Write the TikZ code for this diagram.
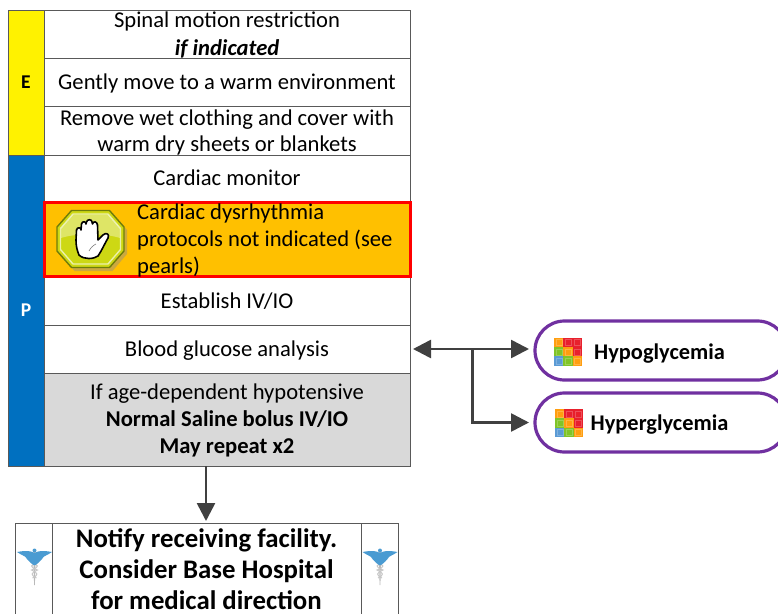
\documentclass[tikz,border=0pt]{standalone}
\usepackage{fontspec}
\setmainfont{Carlito}
\usetikzlibrary{arrows.meta,shapes.geometric,calc}
\definecolor{linegray}{HTML}{595959}
\definecolor{arrowgray}{HTML}{404040}
\definecolor{purp}{HTML}{7030A0}
\definecolor{wingblue}{HTML}{4A9BD2}
\tikzset{
  cell/.style={draw=linegray,line width=0.8pt,outer sep=0pt,minimum width=366pt,anchor=north west,inner sep=0pt},
  celltext/.style={inner sep=0pt,align=center,font=\fontsize{22.6}{27}\selectfont,text=black},
  side/.style={draw=linegray,line width=0.8pt,outer sep=0pt,minimum width=36pt,anchor=north west,inner sep=0pt,font=\fontsize{19.5}{20}\selectfont\bfseries},
  pill/.style={draw=purp,line width=3.2pt,outer sep=0pt,rounded corners=29.5pt,fill=white,minimum width=252pt,minimum height=59pt,anchor=north west},
  pilltext/.style={font=\fontsize{22.4}{26}\selectfont\bfseries,inner sep=0pt,text=black},
  conn/.style={draw=arrowgray,line width=2.6pt},
  tip/.style={-{Triangle[length=18pt,width=18pt]}},
  pane/.style={draw=linegray,line width=0.8pt},
}
\newcommand{\gridicon}[2]{%
  \foreach \cc [count=\k from 0] in {FF9E10,E8202C,E8202C,80C428,FF9E10,E8202C,5B9BD5,80C428,FF9E10}{%
    \pgfmathtruncatemacro{\cx}{mod(\k,3)}%
    \pgfmathtruncatemacro{\cy}{int(\k/3)}%
    \definecolor{gc}{HTML}{\cc}%
    \fill[gc] ({#1+\cx*9.4},{#2+\cy*9.4}) rectangle ++(9.2,9.2);%
    \draw[white,opacity=.22,line width=.8pt] ({#1+\cx*9.4+2},{#2+\cy*9.4+2}) rectangle ++(6,6);%
  }%
}
\newcommand{\caduceus}[2]{%
  \begin{scope}[shift={(#1,#2)}]
    \fill[gray!55] (-1.2,-6) -- (1.2,-6) -- (0.4,29) -- (-0.4,29) -- cycle;
    \draw[gray!45,line width=1pt] (-4,6) .. controls (5,9) and (5,11) .. (-3,14) .. controls (4,17) and (4,19) .. (-2,22);
    \draw[gray!45,line width=1pt] (4,6) .. controls (-5,9) and (-5,11) .. (3,14) .. controls (-4,17) and (-4,19) .. (2,22);
    \fill[wingblue] (-17.5,-4) .. controls (-9,-5.5) and (-4,-5.5) .. (0,-3) .. controls (4,-5.5) and (9,-5.5) .. (17.5,-4) .. controls (13,-1) and (10,0) .. (9,1) .. controls (7,4) and (4,7) .. (1,9) -- (-1,9) .. controls (-4,7) and (-7,4) .. (-9,1) .. controls (-10,0) and (-13,-1) .. (-17.5,-4) -- cycle;
    \fill[wingblue] (0,-5.5) circle (2pt);
  \end{scope}%
}
\begin{document}
\begin{tikzpicture}[x=1pt,y=-1pt]
\useasboundingbox (0,0) rectangle (778,613);
\clip (0,0) rectangle (778,613);
% side bars
\node[side,fill=yellow,minimum height=145pt] (E) at (8,10) {E};
\node[side,fill={rgb,255:red,0;green,112;blue,192},text=white,minimum height=311pt] (P) at (8,155) {P};
% rows
\node[cell,minimum height=48pt] (r1) at (44,10) {};
\node[cell,minimum height=48pt] (r2) at (44,58) {};
\node[cell,minimum height=49pt] (r3) at (44,106) {};
\node[cell,minimum height=47pt] (r4) at (44,155) {};
\node[cell,minimum height=48pt] (r6) at (44,277) {};
\node[cell,minimum height=48pt] (r7) at (44,325) {};
\node[cell,minimum height=93pt,fill={rgb,255:red,217;green,217;blue,217}] (r8) at (44,373) {};
\node[celltext] (t1) at ([yshift=-1pt]r1.center) {Spinal motion restriction\\[1pt]\textbf{\textit{if indicated}}};
\node[celltext] (t2) at ([yshift=-1pt]r2.center) {Gently move to a warm environment};
\node[celltext] (t3) at ([yshift=-2pt]r3.center) {Remove wet clothing and cover with\\[-1pt]warm dry sheets or blankets};
\node[celltext] (t4) at ([yshift=0.4pt]r4.center) {Cardiac monitor};
\node[celltext] (t6) at ([yshift=0pt]r6.center) {Establish IV/IO};
\node[celltext] (t7) at ([yshift=-1.4pt]r7.center) {Blood glucose analysis};
\node[celltext] (t8) at ([yshift=-1.4pt]r8.center) {If age-dependent hypotensive\\\textbf{Normal Saline bolus IV/IO}\\\textbf{May repeat x2}};
% alert row
\node[draw=red,line width=3pt,outer sep=0pt,fill={rgb,255:red,255;green,192;blue,0},minimum width=366pt,minimum height=74.5pt,anchor=north west,inner sep=0pt] (r5) at (44,202) {};
\node[anchor=west,inner sep=0pt,align=left,font=\fontsize{22.6}{27}\selectfont] (r5t) at (137,240) {Cardiac dysrhythmia\\protocols not indicated (see\\pearls)};
% stop icon
\fill[black!45,opacity=.45] (74.5,213) -- (112.5,213) -- (127,230) -- (127,254) -- (112.5,271) -- (74.5,271) -- (60,254) -- (60,230) -- cycle;
\draw[draw={rgb,255:red,110;green,125;blue,10},line width=1.4pt,fill={rgb,255:red,205;green,216;blue,20}] (71.5,210.5) -- (109.5,210.5) -- (124,227) -- (124,251) -- (109.5,267.5) -- (71.5,267.5) -- (57,251) -- (57,227) -- cycle;
\draw[draw={rgb,255:red,235;green,240;blue,170},line width=1.4pt] (73,214) -- (108,214) -- (120.5,228.5) -- (120.5,249.5) -- (108,264) -- (73,264) -- (60.5,249.5) -- (60.5,228.5) -- cycle;
\fill[white,opacity=.35] (73,214.5) -- (108,214.5) -- (120,228.5) -- (120,238) .. controls (105,233) and (76,233) .. (61,238) -- (61,228.5) -- cycle;
\draw[black,line width=1.6pt,fill=white,line join=round]
 (79,255) .. controls (77,250) and (76,246) .. (76,240)
 -- (76.5,230) .. controls (77,227) and (81,227) .. (81,230)
 -- (81.5,224) .. controls (82,221) and (86,221) .. (86,224)
 -- (86.5,222) .. controls (87,219) and (92,219) .. (92,222)
 -- (92.5,224) .. controls (93,221) and (97,221) .. (97.5,225)
 -- (98,240) -- (103,235) .. controls (106,232) and (110,234) .. (108,238)
 .. controls (104,245) and (102,250) .. (98,256)
 .. controls (94,259) and (84,260) .. (79,255) -- cycle;
\draw[gray,line width=.6pt] (89,251) .. controls (91,247) and (94,245) .. (96,244);
% pills
\node[pill] (hypo) at (535,321) {};
\node[pill] (hyper) at (535,393) {};
\gridicon{554}{337.5}
\gridicon{555}{409}
\node[pilltext,anchor=west] (hypot) at (594,353.5) {Hypoglycemia};
\node[pilltext,anchor=west] (hypert) at (590.5,425) {Hyperglycemia};
% bottom box
\draw[pane] (15,640) -- (15,523) -- (398,523) -- (398,640);
\draw[pane] (52,523) -- (52,640);
\draw[pane] (361,523) -- (361,640);
\node[inner sep=0pt,align=center,font=\fontsize{26.8}{31}\selectfont\bfseries] (notify) at (206.5,569) {Notify receiving facility.\\Consider Base Hospital\\for medical direction};
\caduceus{34.5}{556}
\caduceus{380}{556}
% connectors
\coordinate (j) at (472.5,349);
\coordinate (glu) at ($(r7.east)+(3,0)$);
\draw[conn,{Triangle[length=18pt,width=18pt]}-{Triangle[length=18pt,width=18pt]},shorten >=6pt] (glu) -- (hypo.west |- glu);
\draw[conn,tip,shorten >=6pt] (j) |- (hyper.west);
\coordinate (ntop) at (206,523);
\draw[conn,tip,shorten >=2pt] (r8.south -| ntop) -- (ntop);
\end{tikzpicture}
\end{document}
